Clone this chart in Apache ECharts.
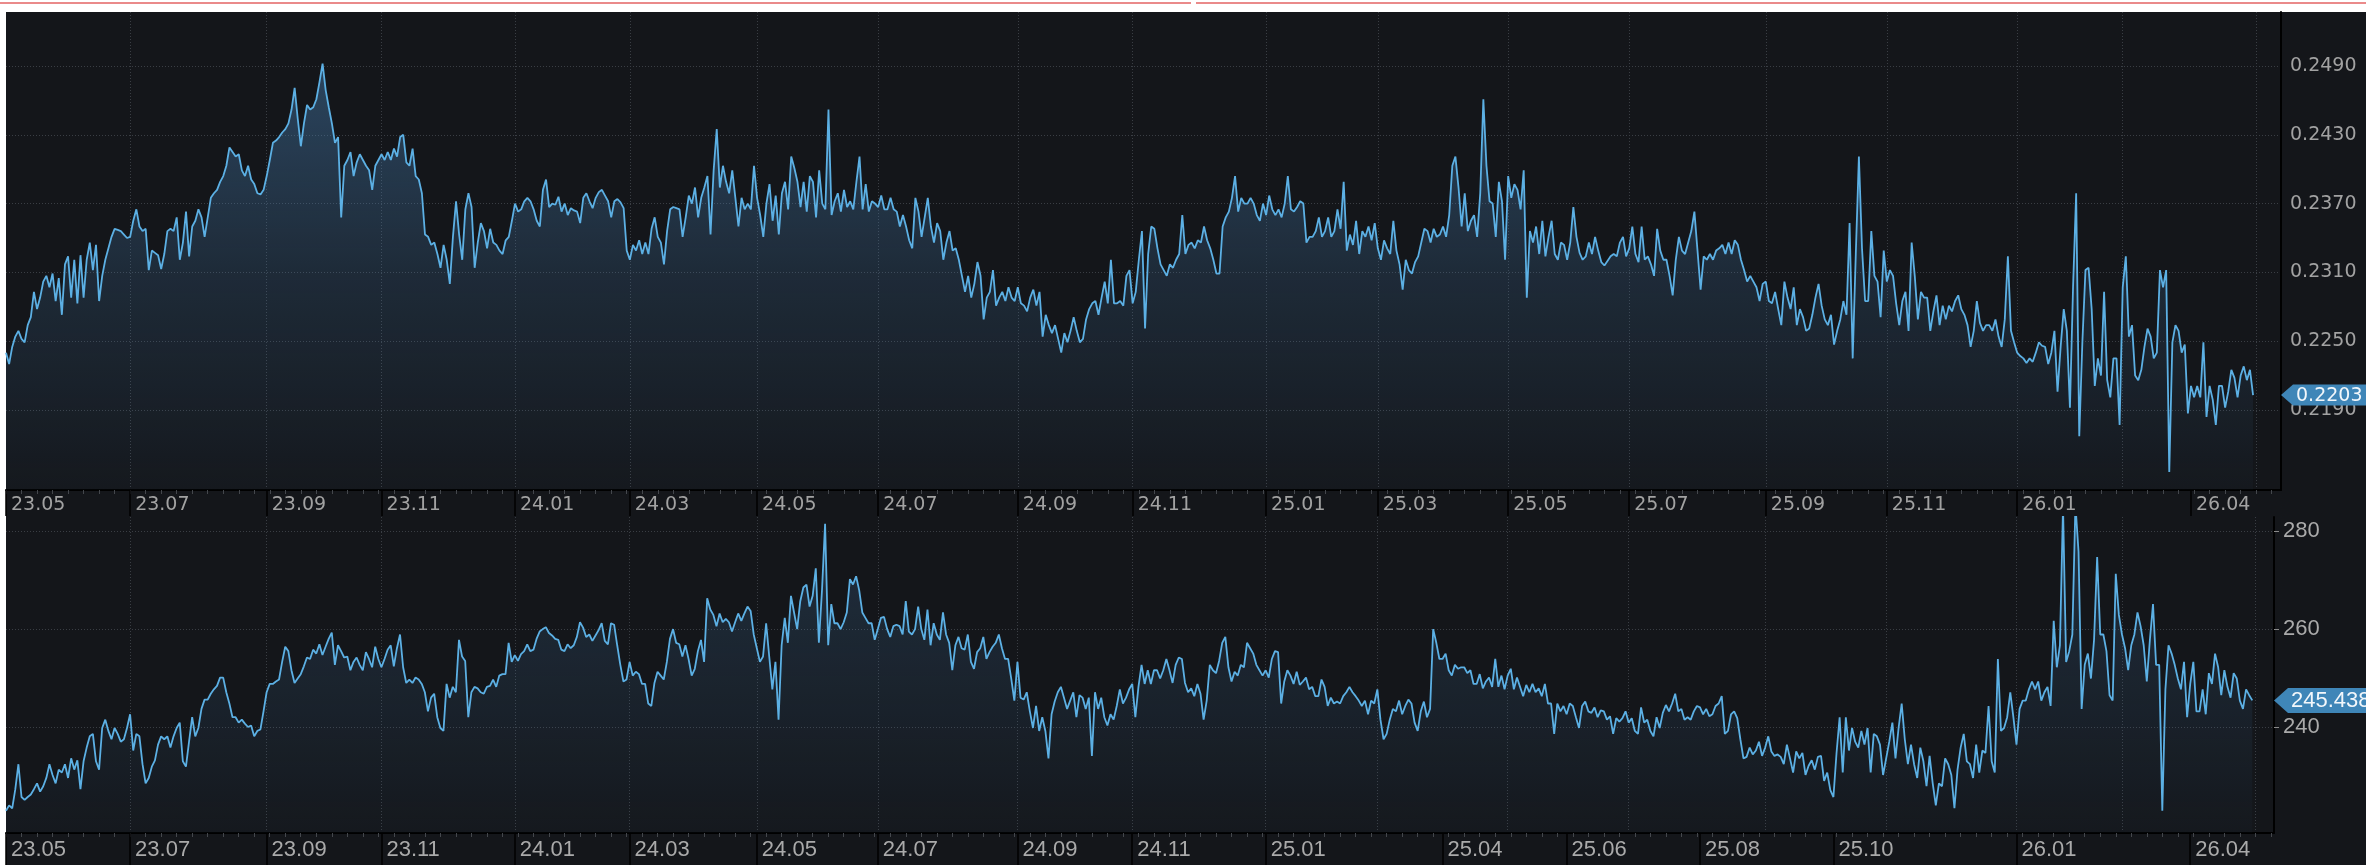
<!DOCTYPE html>
<html>
<head>
<meta charset="utf-8">
<script src="https://cdn.jsdelivr.net/npm/echarts@6/dist/echarts.min.js"></script>
<style>
  html, body { margin: 0; padding: 0; background: #fff; }
  #wrap { position: relative; width: 2366px; height: 865px; overflow: hidden; }
  #bg { position: absolute; left: 6px; top: 12px; right: 0; bottom: 0; background: #14161a; }
  .redline { position: absolute; top: 2px; height: 2px; background: #ea8a8a; }
  #chart { position: absolute; left: 0; top: 0; width: 2366px; height: 865px; }
</style>
</head>
<body>
<div id="wrap">
  <div id="bg"></div>
  <div class="redline" style="left:0;width:1191px"></div>
  <div class="redline" style="left:1196px;right:0"></div>
  <div id="chart"></div>
</div>
<script>
// trading days per month, May 2023 .. Apr 2026
const monthNames = ['23.05','23.06','23.07','23.08','23.09','23.10','23.11','23.12',
  '24.01','24.02','24.03','24.04','24.05','24.06','24.07','24.08','24.09','24.10','24.11','24.12',
  '25.01','25.02','25.03','25.04','25.05','25.06','25.07','25.08','25.09','25.10','25.11','25.12',
  '26.01','26.02','26.03','26.04'];
const monthDays = [20,20,21,23,20,17,22,21,
  22,15,21,20,20,19,23,22,19,18,21,22,
  18,18,21,21,19,20,23,21,22,17,20,22,
  20,14,22,21];

const topLabelMonths = ['23.05','23.07','23.09','23.11','24.01','24.03','24.05','24.07','24.09','24.11',
  '25.01','25.03','25.05','25.07','25.09','25.11','26.01','26.04'];
const bottomLabelMonths = ['23.05','23.07','23.09','23.11','24.01','24.03','24.05','24.07','24.09','24.11',
  '25.01','25.04','25.06','25.08','25.10','26.01','26.04'];

const topTicks = [0.2190, 0.2250, 0.2310, 0.2370, 0.2430, 0.2490];
const bottomTicks = [240, 260, 280];

const topValues = [
  0.2240,0.2230,0.2245,0.2254,0.2259,0.2252,0.2249,0.2264,0.2271,0.2293,0.2278,0.2288,0.2302,0.2307,0.2297,0.2309,0.2285,0.2305,0.2273,0.2317,
  0.2324,0.2288,0.2321,0.2283,0.2325,0.2288,0.2321,0.2336,0.2312,0.2334,0.2285,0.2307,0.2321,0.2331,0.2341,0.2348,0.2347,0.2346,0.2343,0.2340,
  0.2341,0.2355,0.2365,0.2350,0.2346,0.2348,0.2312,0.2329,0.2327,0.2325,0.2313,0.2326,0.2346,0.2348,0.2346,0.2358,0.2321,0.2336,0.2363,0.2324,0.2350,
  0.2355,0.2365,0.2358,0.2341,0.2358,0.2375,0.2379,0.2382,0.2389,0.2394,0.2403,0.2419,0.2415,0.2411,0.2413,0.2399,0.2394,0.2403,0.2391,0.2387,0.2379,0.2378,0.2382,
  0.2394,0.2408,0.2423,0.2425,0.2428,0.2432,0.2435,0.2440,0.2452,0.2471,0.2444,0.2420,0.2440,0.2456,0.2452,0.2454,0.2461,0.2476,0.2492,0.2469,
  0.2454,0.2440,0.2423,0.2428,0.2358,0.2403,0.2408,0.2415,0.2394,0.2406,0.2413,0.2408,0.2403,0.2399,0.2382,0.2403,0.2408,
  0.2413,0.2408,0.2415,0.2408,0.2418,0.2411,0.2428,0.2430,0.2406,0.2403,0.2418,0.2394,0.2391,0.2379,0.2343,0.2341,0.2334,0.2336,0.2326,0.2314,0.2334,0.2321,
  0.2300,0.2341,0.2372,0.2343,0.2321,0.2365,0.2379,0.2367,0.2314,0.2336,0.2353,0.2346,0.2331,0.2348,0.2336,0.2334,0.2329,0.2326,0.2338,0.2341,0.2355,
  0.2370,0.2363,0.2365,0.2372,0.2375,0.2372,0.2365,0.2355,0.2350,0.2382,0.2391,0.2367,0.2370,0.2369,0.2376,0.2363,0.2370,0.2360,0.2366,0.2364,0.2363,0.2353,
  0.2375,0.2379,0.2372,0.2366,0.2375,0.2380,0.2382,0.2377,0.2372,0.2358,0.2372,0.2374,0.2371,0.2366,0.2329,
  0.2321,0.2334,0.2329,0.2338,0.2326,0.2336,0.2326,0.2348,0.2358,0.2341,0.2336,0.2317,0.2346,0.2365,0.2367,0.2366,0.2365,0.2341,0.2358,0.2377,0.2370,
  0.2384,0.2358,0.2375,0.2384,0.2394,0.2343,0.2399,0.2435,0.2384,0.2403,0.2389,0.2379,0.2399,0.2375,0.2350,0.2375,0.2365,0.2370,0.2365,0.2403,
  0.2375,0.2360,0.2341,0.2370,0.2387,0.2355,0.2377,0.2343,0.2379,0.2389,0.2365,0.2411,0.2401,0.2389,0.2367,0.2389,0.2363,0.2394,0.2389,0.2358,
  0.2399,0.2370,0.2365,0.2452,0.2360,0.2372,0.2379,0.2363,0.2382,0.2367,0.2372,0.2365,0.2389,0.2411,0.2365,0.2387,0.2363,0.2372,0.2370,
  0.2367,0.2377,0.2365,0.2365,0.2375,0.2365,0.2363,0.2350,0.2360,0.2350,0.2338,0.2331,0.2375,0.2363,0.2341,0.2358,0.2375,0.2350,0.2336,0.2353,0.2346,0.2321,0.2336,
  0.2346,0.2329,0.2331,0.2321,0.2307,0.2293,0.2307,0.2288,0.2300,0.2319,0.2307,0.2269,0.2288,0.2293,0.2312,0.2281,0.2288,0.2293,0.2285,0.2297,0.2288,0.2285,
  0.2297,0.2283,0.2281,0.2276,0.2288,0.2295,0.2281,0.2293,0.2254,0.2273,0.2264,0.2257,0.2264,0.2252,0.2240,0.2257,0.2249,0.2259,0.2271,
  0.2259,0.2249,0.2252,0.2269,0.2278,0.2283,0.2285,0.2273,0.2288,0.2302,0.2283,0.2321,0.2283,0.2283,0.2285,0.2281,0.2307,0.2312,
  0.2283,0.2293,0.2321,0.2346,0.2261,0.2326,0.2350,0.2348,0.2331,0.2317,0.2312,0.2307,0.2317,0.2314,0.2321,0.2326,0.2360,0.2326,0.2334,0.2336,0.2331,
  0.2338,0.2336,0.2350,0.2338,0.2331,0.2321,0.2309,0.2309,0.2350,0.2358,0.2363,0.2375,0.2394,0.2363,0.2375,0.2370,0.2370,0.2375,0.2370,0.2360,0.2355,0.2370,
  0.2360,0.2377,0.2365,0.2360,0.2365,0.2358,0.2370,0.2394,0.2365,0.2363,0.2367,0.2372,0.2370,0.2336,0.2341,0.2341,0.2346,0.2358,
  0.2341,0.2346,0.2358,0.2341,0.2346,0.2365,0.2348,0.2389,0.2329,0.2343,0.2334,0.2355,0.2326,0.2346,0.2341,0.2350,0.2338,0.2353,
  0.2331,0.2321,0.2338,0.2331,0.2326,0.2355,0.2329,0.2317,0.2295,0.2321,0.2312,0.2309,0.2319,0.2324,0.2336,0.2348,0.2346,0.2336,0.2348,0.2341,0.2343,
  0.2350,0.2341,0.2360,0.2403,0.2411,0.2384,0.2350,0.2379,0.2346,0.2355,0.2360,0.2341,0.2379,0.2461,0.2403,0.2372,0.2370,0.2341,0.2389,0.2372,0.2321,
  0.2394,0.2375,0.2387,0.2382,0.2365,0.2399,0.2288,0.2346,0.2336,0.2350,0.2326,0.2355,0.2324,0.2341,0.2355,0.2326,0.2321,0.2336,0.2334,
  0.2321,0.2336,0.2367,0.2341,0.2327,0.2321,0.2324,0.2336,0.2326,0.2341,0.2329,0.2319,0.2316,0.2320,0.2324,0.2326,0.2324,0.2336,0.2341,0.2324,
  0.2331,0.2350,0.2326,0.2319,0.2350,0.2321,0.2324,0.2317,0.2307,0.2348,0.2329,0.2321,0.2321,0.2307,0.2290,0.2321,0.2341,0.2329,0.2326,0.2336,0.2346,0.2363,0.2329,
  0.2295,0.2324,0.2321,0.2326,0.2321,0.2329,0.2331,0.2334,0.2326,0.2336,0.2326,0.2338,0.2334,0.2321,0.2312,0.2302,0.2307,0.2302,0.2297,0.2285,0.2300,
  0.2302,0.2285,0.2283,0.2293,0.2278,0.2264,0.2302,0.2288,0.2278,0.2297,0.2264,0.2278,0.2271,0.2259,0.2261,0.2273,0.2288,0.2300,0.2281,0.2269,0.2264,0.2273,
  0.2247,0.2259,0.2269,0.2285,0.2273,0.2353,0.2235,0.2326,0.2411,0.2331,0.2285,0.2285,0.2346,0.2307,0.2302,0.2271,0.2329,
  0.2302,0.2312,0.2307,0.2283,0.2264,0.2285,0.2293,0.2259,0.2336,0.2307,0.2269,0.2293,0.2288,0.2288,0.2259,0.2276,0.2290,0.2264,0.2281,0.2269,
  0.2281,0.2276,0.2285,0.2290,0.2278,0.2273,0.2264,0.2245,0.2259,0.2285,0.2266,0.2259,0.2264,0.2264,0.2259,0.2269,0.2254,0.2245,0.2269,0.2324,0.2259,0.2249,
  0.2240,0.2237,0.2235,0.2231,0.2235,0.2232,0.2240,0.2249,0.2246,0.2245,0.2230,0.2240,0.2259,0.2206,0.2245,0.2278,0.2259,0.2192,0.2297,0.2379,
  0.2167,0.2249,0.2312,0.2314,0.2278,0.2211,0.2235,0.2220,0.2293,0.2216,0.2201,0.2235,0.2235,0.2177,
  0.2297,0.2324,0.2254,0.2264,0.2220,0.2216,0.2225,0.2245,0.2261,0.2254,0.2235,0.2240,0.2312,0.2297,0.2312,0.2136,0.2249,0.2264,0.2259,0.2240,0.2247,0.2187,
  0.2211,0.2201,0.2211,0.2201,0.2249,0.2184,0.2211,0.2199,0.2177,0.2211,0.2211,0.2192,0.2206,0.2225,0.2218,0.2201,0.2220,0.2228,0.2216,0.2225,0.2203
];

const bottomValues = [
  222.9,224.0,223.4,227.3,232.4,225.7,225.1,225.7,226.2,227.3,228.5,226.8,227.9,229.6,232.4,230.2,228.5,231.3,230.7,232.4,
  229.6,233.6,231.3,233.2,227.3,233.0,235.8,238.1,238.6,233.0,231.3,239.8,241.5,239.2,237.5,239.8,238.6,237.0,237.5,239.8,
  242.6,235.2,238.6,238.1,232.4,228.5,229.6,231.9,233.2,236.4,238.1,237.5,238.1,235.8,238.1,239.8,240.9,233.0,231.9,237.0,242.0,
  238.1,239.8,243.7,245.6,245.6,246.8,247.7,248.4,250.1,250.1,247.1,244.8,242.0,242.0,240.9,241.5,240.7,240.0,240.3,238.1,239.2,239.5,243.2,
  247.1,248.8,248.8,249.3,249.7,253.3,256.4,255.5,251.6,249.0,249.9,250.8,252.4,254.2,253.9,255.8,255.0,256.9,254.7,256.4,
  258.0,259.3,252.7,256.7,255.5,254.2,254.4,251.6,253.3,254.2,252.7,251.6,255.3,253.9,252.2,256.4,253.9,
  252.2,253.9,255.8,256.7,252.4,256.1,258.9,252.2,249.0,249.7,249.0,250.1,249.7,248.8,247.1,243.2,246.0,246.8,242.0,239.8,239.2,248.8,
  246.0,248.2,247.1,257.8,254.4,253.5,242.0,247.1,248.2,247.9,247.1,246.8,248.2,248.4,249.7,248.2,250.5,250.8,250.8,257.2,253.3,
  254.7,253.5,254.9,255.5,256.9,255.5,255.8,258.0,259.5,260.0,260.4,259.2,258.7,258.0,257.8,255.8,255.5,256.9,256.1,256.7,258.4,261.4,
  260.3,258.4,258.9,257.6,258.7,259.8,261.2,257.6,256.9,261.2,260.9,256.7,252.7,249.3,249.7,
  253.3,250.5,251.3,250.8,248.8,248.8,244.8,244.3,249.0,251.3,250.5,249.7,253.3,258.0,260.0,257.2,256.9,254.4,256.7,253.9,250.5,
  251.9,255.5,257.8,253.3,266.3,264.0,262.9,260.6,263.2,261.4,262.1,261.4,259.5,261.4,263.2,261.7,263.2,264.6,263.7,258.9,
  256.1,253.3,254.4,261.2,254.4,247.7,253.3,241.5,256.7,262.3,257.2,266.8,263.4,260.0,265.7,268.5,269.1,264.6,266.8,272.4,
  257.2,267.9,281.5,256.7,265.1,261.2,261.2,260.0,261.4,263.4,270.2,269.1,270.8,267.9,263.4,262.3,261.2,261.2,257.8,
  260.0,262.3,262.5,260.0,258.4,260.6,260.9,260.6,258.9,265.7,259.5,258.9,260.0,264.6,260.0,257.8,264.0,256.7,261.2,258.9,257.8,263.4,258.9,
  257.2,251.6,256.7,258.4,256.1,255.8,258.9,253.3,251.9,255.3,256.1,258.4,253.9,255.3,256.4,257.2,258.9,256.1,253.9,253.9,249.9,245.4,
  253.3,246.0,245.6,247.1,243.2,239.8,244.3,239.2,242.0,239.2,233.6,242.6,245.2,247.1,248.2,246.0,243.7,245.4,247.1,
  242.0,246.5,246.0,243.7,246.0,234.1,247.1,243.7,246.0,242.0,240.3,242.6,241.5,244.3,247.7,244.8,246.0,247.7,
  248.8,242.0,248.2,252.7,248.8,251.6,248.8,251.6,251.6,249.9,251.6,253.9,251.6,249.0,252.7,254.2,253.9,249.0,247.1,247.9,246.3,
  248.8,246.8,241.5,245.4,252.7,251.6,251.0,253.5,257.2,258.4,252.2,249.3,251.3,250.5,252.7,252.2,257.2,256.1,255.0,252.7,251.6,250.5,
  251.6,250.1,253.9,255.5,255.3,244.8,249.3,251.6,250.5,248.8,251.3,248.6,249.3,250.1,247.7,248.2,246.3,246.3,
  249.7,248.2,244.3,246.0,244.8,245.2,244.8,246.3,247.1,248.2,247.1,246.3,245.4,244.3,245.4,242.6,245.4,244.8,
  247.7,241.5,237.5,238.6,241.5,243.7,243.2,245.4,242.6,244.3,245.6,244.8,240.9,239.2,243.2,245.2,242.0,243.7,260.0,257.2,253.9,
  253.9,255.0,251.6,250.5,252.7,251.9,252.2,252.2,251.0,251.6,248.8,248.8,250.8,247.9,249.3,250.1,248.2,253.9,248.2,250.5,247.7,
  250.5,251.9,247.7,250.1,248.2,246.3,248.6,247.1,248.8,247.1,247.9,246.3,248.8,244.8,244.8,238.6,244.8,243.2,244.3,
  242.6,244.8,244.3,242.0,239.8,244.3,245.2,243.2,242.9,244.0,242.0,243.4,243.2,241.5,242.2,238.6,241.8,241.1,241.8,243.2,
  240.9,241.8,239.2,238.6,244.0,240.9,241.5,239.2,238.1,242.0,239.8,242.9,244.5,243.2,244.8,246.8,243.2,243.7,241.5,242.0,241.5,243.2,244.3,
  244.0,242.6,243.7,242.2,242.6,244.3,244.8,246.3,238.6,239.2,242.6,243.2,241.8,237.5,233.6,233.9,235.8,234.4,235.2,237.0,234.1,
  235.8,238.1,235.0,234.1,234.4,233.9,232.4,236.4,233.6,230.7,235.0,233.6,234.7,230.2,232.1,233.2,231.3,233.9,234.1,229.0,230.7,227.1,
  225.7,234.7,242.0,230.7,242.0,235.2,239.8,237.0,235.8,239.2,236.4,239.8,230.7,238.6,238.1,236.4,230.2,
  233.6,237.0,240.9,233.6,239.8,244.8,237.5,232.4,236.4,232.4,229.6,235.8,233.0,227.9,234.1,228.5,224.0,228.5,227.9,233.6,
  232.4,230.2,223.4,231.3,235.8,238.6,233.0,232.4,229.6,236.4,230.7,235.2,234.7,244.3,233.0,230.7,253.9,239.2,239.8,242.0,247.1,242.0,
  236.4,243.7,245.4,245.4,247.7,249.3,247.7,249.3,245.4,247.1,248.2,244.3,261.7,252.2,256.7,284.9,253.3,255.5,258.9,285.4,
  275.8,243.7,252.7,255.0,249.9,257.8,274.7,258.9,258.9,255.5,246.5,245.4,271.3,262.9,
  258.9,256.1,251.6,256.7,258.9,263.4,260.6,256.7,249.3,257.8,265.1,252.7,252.7,222.9,247.7,256.7,255.0,252.7,249.9,247.7,253.3,242.0,
  248.8,253.3,243.2,243.2,247.7,242.6,251.0,248.8,255.0,252.2,246.5,251.6,248.2,246.0,251.0,249.9,245.4,243.7,247.7,246.5,245.438
];

// one category per trading day, e.g. "23.05.01"
const days = [];
const monthStart = {};
monthNames.forEach(function (m, k) {
  monthStart[m] = days.length;
  for (let d = 1; d <= monthDays[k]; d++) days.push(m + '.' + (d < 10 ? '0' + d : d));
});

const topMax = 733, bottomMax = 731;  // axes run a little past the last trading day

const topLabelIdx = new Set(topLabelMonths.map(m => monthStart[m]));
const bottomLabelIdx = new Set(bottomLabelMonths.map(m => monthStart[m]));
const gridIdx = new Set();
monthNames.forEach(function (m) {
  if (Number(m.slice(3)) % 2 === 1 && monthStart[m] > 0) gridIdx.add(monthStart[m]);
});
gridIdx.add(days.length); // next odd month (26.05)

const dotted = { color: '#3a3e44', width: 1, type: [1, 2] };
const lineColor = '#5cb0e4';

function mainX(grid, max) {
  return {
    gridIndex: grid, type: 'category', data: days, boundaryGap: false, max: max, position: 'bottom',
    axisLine: { show: true, lineStyle: { color: '#000', width: 2 } },
    axisTick: { show: true, interval: i => i % 5 === 0, length: 4, lineStyle: { color: '#44474c' } },
    axisLabel: { show: false },
    splitLine: { show: true, interval: i => gridIdx.has(i), lineStyle: dotted }
  };
}
function labelX(grid, max, idx, font, size, color, tickLen) {
  return {
    gridIndex: grid, type: 'category', data: days, boundaryGap: false, max: max, position: 'bottom',
    axisLine: { show: false },
    axisTick: { show: true, interval: i => idx.has(i), length: tickLen, lineStyle: { color: '#000', width: 1.5 } },
    axisLabel: {
      show: true, interval: i => idx.has(i), formatter: v => v.slice(0, 5),
      align: 'left', padding: [0, 0, 0, 5], margin: 6,
      color: color, fontSize: size, fontFamily: font
    },
    splitLine: { show: false }
  };
}

const chart = echarts.init(document.getElementById('chart'), null, { renderer: 'canvas' });

const option = {
  backgroundColor: 'transparent',
  animation: false,
  grid: [
    { left: 6, top: 12, right: 85, height: 478 },
    { left: 6, top: 517, right: 92, height: 316 }
  ],
  xAxis: [
    mainX(0, topMax),
    labelX(0, topMax, topLabelIdx, 'DejaVu Sans', 19, '#a2a2a2', 26),
    mainX(1, bottomMax),
    labelX(1, bottomMax, bottomLabelIdx, 'Liberation Sans', 22, '#aaaaaa', 34)
  ],
  yAxis: [
    {
      gridIndex: 0, type: 'value', position: 'right', min: 0.21202, max: 0.25371,
      axisLine: { show: true, lineStyle: { color: '#000', width: 2 } },
      axisTick: { show: false, customValues: topTicks },
      axisLabel: { customValues: topTicks, formatter: v => v.toFixed(4), margin: 9,
        color: '#a2a2a2', fontSize: 19, fontFamily: 'DejaVu Sans' },
      splitLine: { show: true, lineStyle: dotted }
    },
    {
      gridIndex: 1, type: 'value', position: 'right', min: 218.35, max: 282.9,
      axisLine: { show: true, lineStyle: { color: '#000', width: 2 } },
      axisTick: { show: true, length: 5, customValues: bottomTicks, lineStyle: { color: '#8a8a8a' } },
      axisLabel: { customValues: bottomTicks, margin: 9,
        color: '#aaaaaa', fontSize: 22, fontFamily: 'Liberation Sans' },
      splitLine: { show: true, lineStyle: dotted }
    }
  ],
  series: [
    {
      type: 'line', xAxisIndex: 0, yAxisIndex: 0, data: topValues,
      showSymbol: false, silent: true,
      lineStyle: { color: lineColor, width: 1.8 },
      areaStyle: {
        origin: 'start',
        color: new echarts.graphic.LinearGradient(0, 0, 0, 1, [
          { offset: 0, color: 'rgba(72,128,180,0.64)' },
          { offset: 0.5, color: 'rgba(72,128,180,0.28)' },
          { offset: 1, color: 'rgba(72,128,180,0.04)' }
        ])
      }
    },
    {
      type: 'line', xAxisIndex: 2, yAxisIndex: 1, data: bottomValues,
      showSymbol: false, silent: true,
      lineStyle: { color: lineColor, width: 1.8 },
      areaStyle: {
        origin: 'start',
        color: new echarts.graphic.LinearGradient(0, 0, 0, 1, [
          { offset: 0, color: 'rgba(72,128,180,0.36)' },
          { offset: 0.5, color: 'rgba(72,128,180,0.20)' },
          { offset: 1, color: 'rgba(72,128,180,0.04)' }
        ])
      }
    }
  ]
};
chart.setOption(option);

// last-value tags on the right axes
function tag(xAxisIndex, yAxisIndex, xMax, value, text, font, h, arrow) {
  const x = chart.convertToPixel({ xAxisIndex: xAxisIndex }, xMax);
  const y = chart.convertToPixel({ yAxisIndex: yAxisIndex }, value);
  return {
    type: 'group', z: 100,
    children: [
      { type: 'polygon', z: 100,
        shape: { points: [[x, y], [x + arrow, y - h / 2], [2366, y - h / 2], [2366, y + h / 2], [x + arrow, y + h / 2]] },
        style: { fill: '#3f86b8' } },
      { type: 'text', z: 101,
        style: { text: text, x: x + arrow + 3, y: y + 1, verticalAlign: 'middle', fill: '#f2f7fb', font: font } }
    ]
  };
}
const lastTop = topValues[topValues.length - 1];
const lastBottom = bottomValues[bottomValues.length - 1];
chart.setOption({
  graphic: [
    tag(0, 0, topMax, lastTop, lastTop.toFixed(4), '19px "DejaVu Sans"', 21, 12),
    tag(2, 1, bottomMax, lastBottom, String(lastBottom), '22px "Liberation Sans"', 25, 14)
  ]
});
</script>
</body>
</html>
